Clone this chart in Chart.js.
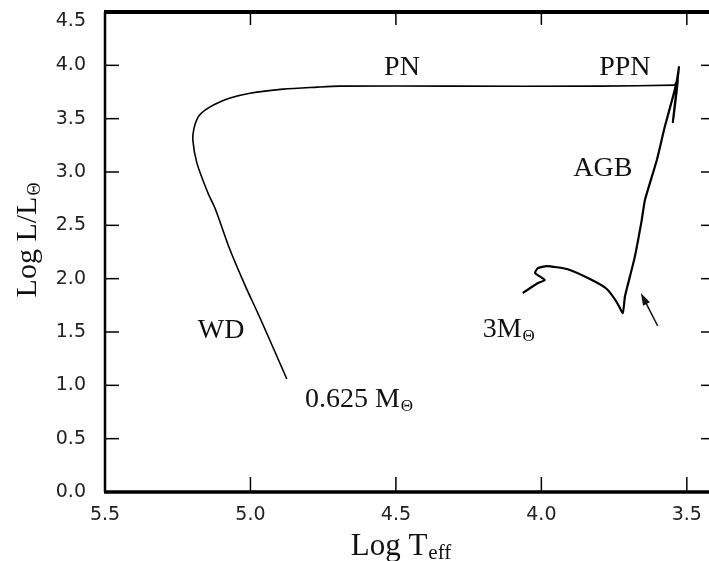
<!DOCTYPE html>
<html>
<head>
<meta charset="utf-8">
<title>HR diagram track</title>
<script src="https://cdn.jsdelivr.net/npm/chart.js@4.4.1/dist/chart.umd.min.js"></script>
<style>
    body { margin: 0; background: #fff; overflow: hidden; }
    #wrap { width: 720px; height: 561px; }
</style>
</head>
<body>
<div id="wrap"><canvas id="hrChart" width="720" height="561"></canvas></div>
<script>
// Tick values
const xTicks = [5.5, 5.0, 4.5, 4.0, 3.5];
const yTicks = [0.0, 0.5, 1.0, 1.5, 2.0, 2.5, 3.0, 3.5, 4.0, 4.5];

// 3 Msun track: main sequence hook, red giant, AGB up to the tip
const agbTeff = [4.064, 4.012, 3.988, 4.022, 4.012, 3.981, 3.912, 3.833, 3.775, 3.741, 3.720,
                 3.713, 3.703, 3.679, 3.655, 3.644, 3.603, 3.576, 3.548, 3.534, 3.527,
                 3.548, 3.531, 3.541];
const agbLum  = [1.865, 1.959, 1.987, 2.053, 2.099, 2.118, 2.090, 1.996, 1.903, 1.781, 1.678,
                 1.828, 1.940, 2.202, 2.549, 2.737, 3.112, 3.421, 3.702, 3.861, 3.983,
                 3.468, 3.861, 3.814];

// Post-AGB: PPN, PN and white dwarf cooling of the 0.625 Msun remnant
const postTeff = [3.541, 3.799, 4.314, 4.692, 4.771, 4.888, 5.002, 5.070, 5.122, 5.156,
                  5.180, 5.194, 5.198, 5.184, 5.146, 5.122, 5.070, 5.019, 4.967, 4.875];
const postLum  = [3.814, 3.805, 3.805, 3.805, 3.796, 3.777, 3.739, 3.693, 3.636, 3.580,
                  3.515, 3.411, 3.299, 3.083, 2.802, 2.662, 2.268, 1.940, 1.631, 1.059];

// Arrow pointing at the AGB base (tail -> head)
const arrowTeff = [3.600, 3.658];
const arrowLum  = [1.556, 1.865];

// Text labels on the diagram
const labelText = ['PN', 'PPN', 'AGB', 'WD', '3M', '0.625 M'];
const labelSub  = ['', '', '', '', 'Θ', 'Θ'];
const labelTeff = [4.479, 3.713, 3.789, 5.101, 4.112, 4.627];
const labelLum  = [3.993, 3.993, 3.046, 1.528, 1.537, 0.881];

const SERIF = '"Liberation Serif", "Times New Roman", serif';
const SANS = '"DejaVu Sans", sans-serif';
const TICK_COLOR = '#222';

function toPoints(xs, ys) {
    return xs.map((x, i) => ({ x: x, y: ys[i] }));
}

// draw text with an optional subscript, centered on (x, y) cap middle
function drawSubText(ctx, main, sub, x, y, size, subScale) {
    const subSize = Math.round(size * (subScale || 0.62));
    ctx.font = size + 'px ' + SERIF;
    const w1 = ctx.measureText(main).width;
    ctx.font = subSize + 'px ' + SERIF;
    const w2 = sub ? ctx.measureText(sub).width + 1 : 0;
    const start = x - (w1 + w2) / 2;
    const base = y + size * 0.33;
    ctx.textAlign = 'left';
    ctx.textBaseline = 'alphabetic';
    ctx.font = size + 'px ' + SERIF;
    ctx.fillText(main, start, base);
    if (sub) {
        ctx.font = subSize + 'px ' + SERIF;
        ctx.fillText(sub, start + w1 + 1, base + size * 0.12);
    }
}

// no extra room for half tick labels at the ends of the axes
function noEndPadding(axis) {
    axis.paddingTop = 0;
    axis.paddingBottom = 0;
    axis.paddingLeft = 0;
    axis.paddingRight = 0;
}

const framePlugin = {
    id: 'frame',
    beforeDatasetsDraw(chart) {
        const { ctx, chartArea: a, scales } = chart;
        ctx.save();
        ctx.strokeStyle = '#000';
        ctx.lineCap = 'butt';

        // borders
        ctx.lineWidth = 4;
        ctx.beginPath(); ctx.moveTo(a.left - 1, a.top); ctx.lineTo(a.right + 2, a.top); ctx.stroke();
        ctx.lineWidth = 3.5;
        ctx.beginPath(); ctx.moveTo(a.left - 1, a.bottom); ctx.lineTo(a.right + 2, a.bottom); ctx.stroke();
        ctx.lineWidth = 2.5;
        ctx.beginPath(); ctx.moveTo(a.left, a.top); ctx.lineTo(a.left, a.bottom); ctx.stroke();
        ctx.beginPath(); ctx.moveTo(a.right, a.top); ctx.lineTo(a.right, a.bottom); ctx.stroke();

        // inward tick marks
        ctx.lineWidth = 1.5;
        xTicks.forEach(v => {
            if (v === 5.5) return;
            const px = scales.x.getPixelForValue(v);
            ctx.beginPath(); ctx.moveTo(px, a.bottom); ctx.lineTo(px, a.bottom - 15); ctx.stroke();
            ctx.beginPath(); ctx.moveTo(px, a.top); ctx.lineTo(px, a.top + 13); ctx.stroke();
        });
        yTicks.forEach(v => {
            if (v === 0 || v === 4.5) return;
            const py = scales.y.getPixelForValue(v);
            ctx.beginPath(); ctx.moveTo(a.left, py); ctx.lineTo(a.left + 14, py); ctx.stroke();
            ctx.beginPath(); ctx.moveTo(a.right, py); ctx.lineTo(a.right - 12, py); ctx.stroke();
        });

        // top y label sits a little below the frame line
        const top = yTicks[yTicks.length - 1];
        ctx.fillStyle = TICK_COLOR;
        ctx.font = '19px ' + SANS;
        ctx.textAlign = 'right';
        ctx.textBaseline = 'middle';
        ctx.fillText(top.toFixed(1), a.left - 19, scales.y.getPixelForValue(top) + 9);
        ctx.restore();
    },
    afterDatasetsDraw(chart) {
        const { ctx, scales } = chart;
        const xs = scales.x, ys = scales.y;
        ctx.save();
        ctx.fillStyle = '#111';

        // labels
        labelText.forEach((t, i) => {
            drawSubText(ctx, t, labelSub[i], xs.getPixelForValue(labelTeff[i]),
                        ys.getPixelForValue(labelLum[i]), 28);
        });

        // arrow
        const x0 = xs.getPixelForValue(arrowTeff[0]), y0 = ys.getPixelForValue(arrowLum[0]);
        const x1 = xs.getPixelForValue(arrowTeff[1]), y1 = ys.getPixelForValue(arrowLum[1]);
        const ang = Math.atan2(y1 - y0, x1 - x0);
        ctx.strokeStyle = '#111';
        ctx.lineWidth = 1.5;
        ctx.beginPath();
        ctx.moveTo(x0, y0);
        ctx.lineTo(x1 - 8 * Math.cos(ang), y1 - 8 * Math.sin(ang));
        ctx.stroke();
        ctx.beginPath();
        ctx.moveTo(x1, y1);
        ctx.lineTo(x1 - 13 * Math.cos(ang - 0.3), y1 - 13 * Math.sin(ang - 0.3));
        ctx.lineTo(x1 - 13 * Math.cos(ang + 0.3), y1 - 13 * Math.sin(ang + 0.3));
        ctx.closePath();
        ctx.fill();

        // axis titles
        drawSubText(ctx, 'Log T', 'eff', 401, 545, 31, 0.68);
        ctx.translate(26, 240);
        ctx.rotate(-Math.PI / 2);
        drawSubText(ctx, 'Log L/L', 'Θ', 0, 0, 30, 0.6);
        ctx.restore();
    }
};

const tickFont = { family: SANS, size: 19 };

new Chart(document.getElementById('hrChart'), {
    type: 'scatter',
    data: {
        datasets: [
            {
                label: 'AGB',
                data: toPoints(agbTeff, agbLum),
                showLine: true,
                borderColor: '#000',
                borderWidth: 2.2,
                pointRadius: 0,
                tension: 0.15
            },
            {
                label: 'post-AGB',
                data: toPoints(postTeff, postLum),
                showLine: true,
                borderColor: '#000',
                borderWidth: 1.6,
                pointRadius: 0,
                tension: 0.3
            }
        ]
    },
    options: {
        responsive: false,
        animation: false,
        devicePixelRatio: 1,
        layout: { autoPadding: false, padding: { top: 12, right: 7, left: 0, bottom: 0 } },
        plugins: {
            legend: { display: false },
            tooltip: { enabled: false }
        },
        scales: {
            x: {
                type: 'linear',
                reverse: true,
                min: 3.41,
                max: 5.5,
                grid: { display: false, drawTicks: false },
                border: { display: false },
                afterBuildTicks: (axis) => { axis.ticks = xTicks.map(v => ({ value: v })); },
                afterFit: (axis) => { axis.height = 69; noEndPadding(axis); },
                ticks: {
                    callback: (v) => v.toFixed(1),
                    font: tickFont,
                    color: TICK_COLOR,
                    padding: 12,
                    maxRotation: 0,
                    autoSkip: false
                }
            },
            y: {
                type: 'linear',
                min: 0,
                max: 4.5,
                grid: { display: false, drawTicks: false },
                border: { display: false },
                afterBuildTicks: (axis) => { axis.ticks = yTicks.map(v => ({ value: v })); },
                afterFit: (axis) => { axis.width = 105; noEndPadding(axis); },
                ticks: {
                    // the top value is drawn by the frame plugin
                    callback: (v) => (v === 4.5 ? '' : v.toFixed(1)),
                    font: tickFont,
                    color: TICK_COLOR,
                    padding: 19,
                    autoSkip: false
                }
            }
        }
    },
    plugins: [framePlugin]
});
</script>
</body>
</html>
